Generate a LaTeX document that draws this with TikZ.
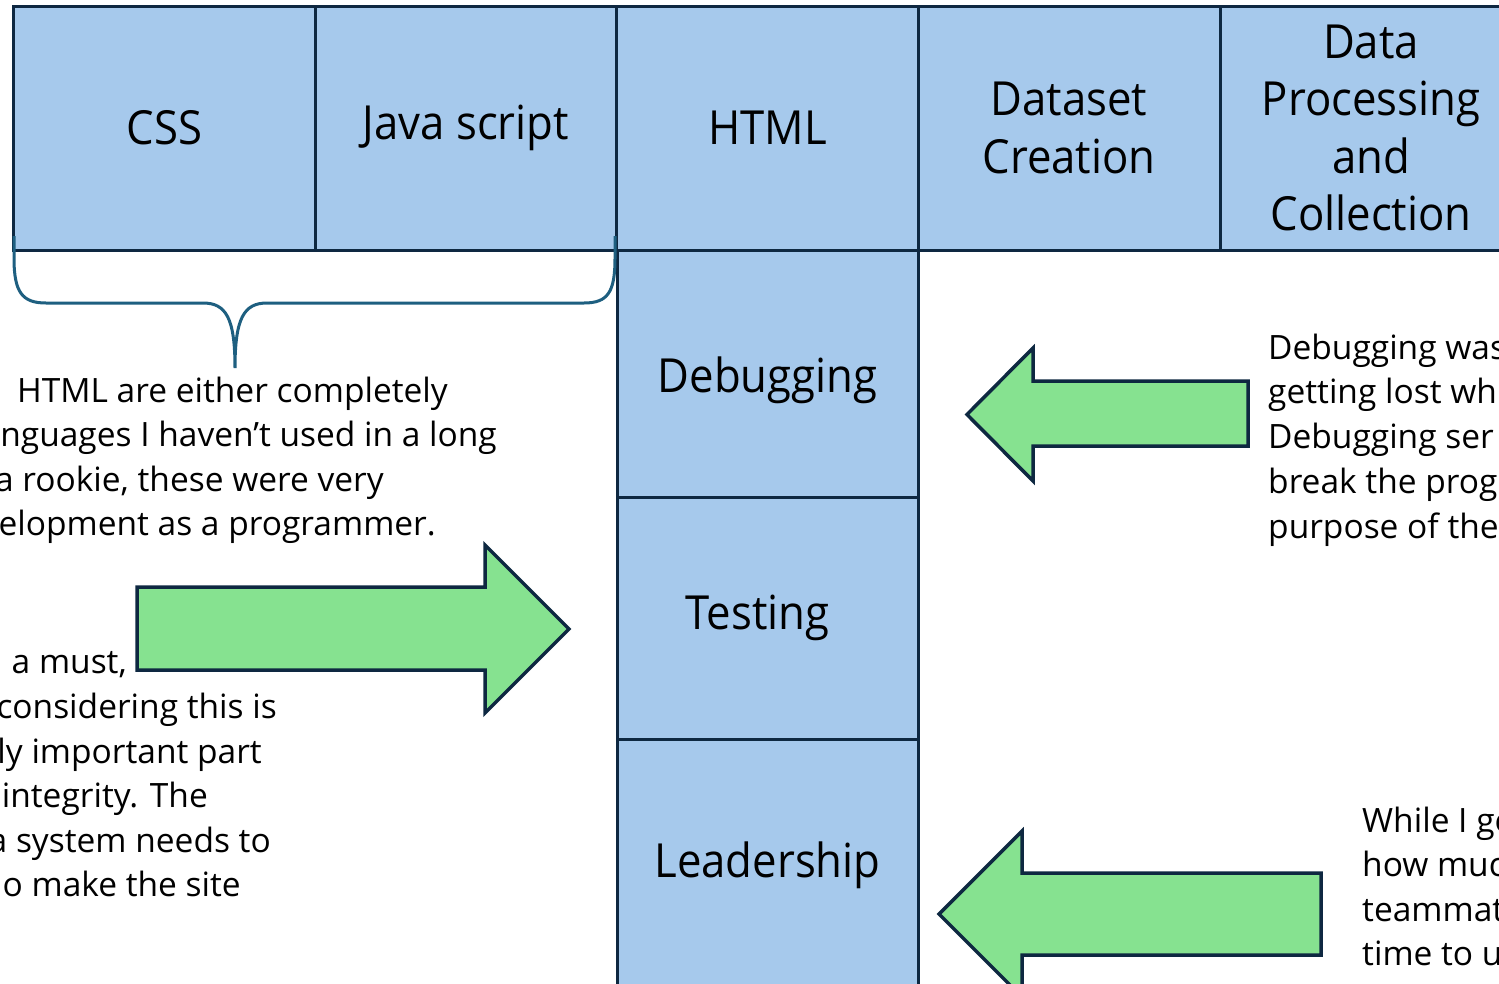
\documentclass[tikz,border=0pt]{standalone}
\usepackage{fontspec}
\setmainfont{Open Sans}
\newfontfamily\boxfamily[FakeStretch=0.93]{Open Sans}
\definecolor{boxfill}{RGB}{166,201,236}
\definecolor{navy}{RGB}{14,40,65}
\definecolor{arrowfill}{RGB}{134,226,144}
\definecolor{bracecol}{RGB}{30,95,128}
\newcommand{\boxtext}{\boxfamily\fontsize{47}{57.5}\selectfont}
\newcommand{\bodytext}{\fontsize{33.5}{44.6}\selectfont}
\begin{document}
\begin{tikzpicture}[x=1pt,y=-1pt,
  cell/.style={draw=navy, fill=boxfill, line width=3pt, inner sep=0pt,
    align=center, font=\boxtext, text=black, minimum width=302pt},
  blockarrow/.style={draw=navy, fill=arrowfill, line width=3.5pt, line join=miter},
  bodyL/.style={anchor=base east, inner sep=0pt, font=\bodytext, text=black},
  bodyR/.style={anchor=base west, inner sep=0pt, font=\bodytext, text=black},
  brace/.style={draw=bracecol, line width=3pt, line cap=butt}]
\useasboundingbox (0,0) rectangle (1499,983);
\clip (0,0) rectangle (1499,983);
\fill[white] (0,0) rectangle (1499,983);

% top row
\node[cell, minimum height=244pt] (css)  at (164.5,128) {CSS};
\node[cell, minimum height=244pt] (js)   at (466,128) {Java script};
\node[cell, minimum height=244pt] (html) at (767.5,128) {HTML};
\node[cell, minimum height=244pt] (data) at (1069,128) {Dataset\\Creation};
\node[cell, minimum height=244pt] (proc) at (1371,128) {Data\\Processing\\and\\Collection};

% column
\node[cell, minimum width=301pt, minimum height=247pt] (debug) at (767.5,373.5) {\raisebox{-18.5pt}[0pt][0pt]{Debugging}};
\node[cell, minimum width=301pt, minimum height=242pt] (test)  at (767.5,618) {Testing\hspace*{20pt}};
\node[cell, minimum width=301pt, minimum height=246pt] (lead)  at (767.5,862) {\raisebox{-15.5pt}[0pt][0pt]{Leadership}};

% brace under CSS and Java script
\draw[brace] (14,236) -- (14,258) .. controls (14,292) and (22,303) .. (46,303)
  -- (203,303) .. controls (226,303) and (235,318) .. (235,368)
  .. controls (235,318) and (244,303) .. (267,303)
  -- (584,303) .. controls (608,303) and (615,292) .. (615,258) -- (615,236);

% arrows
\draw[blockarrow] (137,587) -- (485,587) -- (485,545) -- (569,629) -- (485,713)
  -- (485,670) -- (137,670) -- cycle;
\draw[blockarrow] (1248,381) -- (1033,381) -- (1033,348) -- (967,414.5) -- (1033,481)
  -- (1033,446) -- (1248,446) -- cycle;
\draw[blockarrow] (1321,873) -- (1022,873) -- (1022,831) -- (939,914) -- (1022,997)
  -- (1022,955) -- (1321,955) -- cycle;

% left text, upper
\node[bodyL] (la1) at (448,402) {HTML are either completely};
\node[bodyL] (la2) at (497,446.5) {nguages I haven’t used in a long};
\node[bodyL] (la3) at (384,491) {a rookie, these were very};
\node[bodyL] (la4) at (436,535.5) {elopment as a programmer.};

% left text, lower
\node[bodyL] (lb1) at (127,673) {a must,};
\node[bodyL] (lb2) at (277,718) {considering this is};
\node[bodyL] (lb3) at (262,763) {ly important part};
\node[bodyL] (lb4) at (208,807) {integrity. The};
\node[bodyL] (lb5) at (271,852) {a system needs to};
\node[bodyL] (lb6) at (241,896) {o make the site};

% right text, upper
\node[bodyR] (ra1) at (1268,359) {Debugging was};
\node[bodyR] (ra2) at (1268,403.5) {getting lost wh};
\node[bodyR] (ra3) at (1268,448) {Debugging ser};
\node[bodyR] (ra4) at (1268,493) {break the prog};
\node[bodyR] (ra5) at (1268,538) {purpose of the};

% right text, lower
\node[bodyR] (rb1) at (1362,832) {While I ge};
\node[bodyR] (rb2) at (1362,876.5) {how muc};
\node[bodyR] (rb3) at (1362,921) {teammat};
\node[bodyR] (rb4) at (1362,965.5) {time to u};
\end{tikzpicture}
\end{document}
